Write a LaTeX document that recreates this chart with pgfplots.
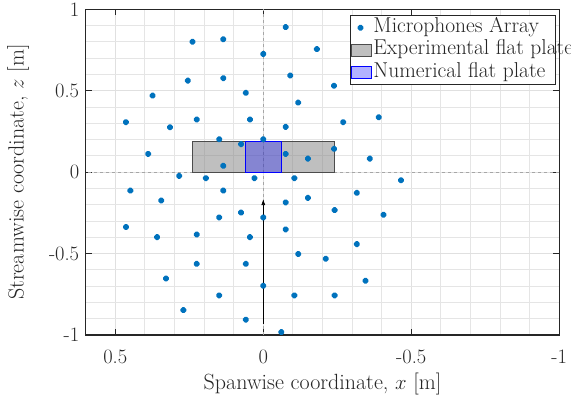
\documentclass[border=0pt]{standalone}
\usepackage{pgfplots}
\pgfplotsset{compat=1.18}
\usetikzlibrary{arrows.meta}
\definecolor{mblue}{rgb}{0,0.447,0.741}
\definecolor{edgegray}{rgb}{0.3,0.3,0.3}
\pgfplotsset{rectlegend/.style={legend image code/.code={\draw[##1] (0pt,-6pt) rectangle (20pt,6pt);}}}
\begin{document}
\begin{tikzpicture}
\begin{axis}[
  scale only axis, width=473.6pt, height=325.7pt,
  x dir=reverse,
  xmin=-1, xmax=0.6, ymin=-1, ymax=1,
  xtick={0.5,0,-0.5,-1}, xticklabels={0.5,0,-0.5,-1},
  ytick={-1,-0.5,0,0.5,1}, yticklabels={-1,-0.5,0,0.5,1},
  minor xtick={-0.9,-0.8,-0.7,-0.6,-0.4,-0.3,-0.2,-0.1,0.1,0.2,0.3,0.4},
  minor ytick={-0.9,-0.8,-0.7,-0.6,-0.4,-0.3,-0.2,-0.1,0.1,0.2,0.3,0.4,0.6,0.7,0.8,0.9},
  grid=both,
  major grid style={black!12, line width=0.9pt},
  minor grid style={black!10, line width=0.9pt},
  tick align=inside, major tick length=6pt, minor tick length=0pt,
  axis line style={line width=1.1pt, black!85},
  major tick style={line width=1.1pt, black!85},
  tick label style={font=\fontsize{20.5}{22}\selectfont, text=black!85},
  xticklabel style={yshift=-11pt},
  yticklabel style={xshift=-3pt},
  label style={font=\fontsize{22}{24}\selectfont, text=black!85},
  xlabel={Spanwise coordinate, $x$ [m]},
  ylabel={Streamwise coordinate, $z$ [m]},
  xlabel style={yshift=-3pt},
  ylabel style={yshift=13pt},
  legend cell align=left,
  legend style={at={(rel axis cs:1,1)}, anchor=north east, xshift=-3.3pt, yshift=-5.7pt,
    font=\fontsize{21.5}{23}\selectfont, text=black!85, draw=black!85, line width=1pt,
    inner sep=1pt, row sep=0pt,
    nodes={inner sep=1pt, text height=15pt, text depth=5.5pt}},
]
\addplot[forget plot, black!35, dashed, line width=0.6pt] coordinates {(0,-1) (0,1)};
\addplot[forget plot, black!35, dashed, line width=0.6pt] coordinates {(-1,0) (0.6,0)};
\addplot[only marks, mark=*, mark size=1.9pt, mark options={draw=mblue, fill=white, line width=2.8pt, line join=round}]
coordinates {
(-0.0755,0.891) (0.239,0.801) (0.135,0.816) (0,0.726) (0.255,0.562) (0.135,0.577)
(-0.091,0.593) (0.059,0.487) (0.374,0.470) (-0.118,0.427) (0.464,0.307) (0.315,0.276)
(0.225,0.323) (0.045,0.323) (-0.0755,0.278) (0.149,0.202) (0,0.202) (0.075,0.172)
(-0.0755,0.112) (0.389,0.112) (0.135,0.039) (-0.181,0.756) (-0.239,0.531) (-0.270,0.307)
(-0.390,0.337) (-0.151,0.083) (-0.239,0.143) (-0.360,0.083) (-0.105,-0.037) (-0.465,-0.050)
(0.284,-0.023) (0.194,-0.037) (0.030,-0.037) (0.449,-0.113) (0.135,-0.113) (0.345,-0.174)
(-0.0755,-0.186) (0.075,-0.248) (0.149,-0.278) (0,-0.278) (0.464,-0.337) (-0.0755,-0.352)
(0.359,-0.399) (0.225,-0.383) (0.045,-0.399) (-0.118,-0.503) (0.225,-0.563) (0.059,-0.563)
(0.329,-0.653) (0,-0.698) (0.149,-0.757) (-0.105,-0.757) (0.270,-0.847) (0.059,-0.906)
(-0.061,-0.982) (-0.316,-0.127) (-0.241,-0.233) (-0.406,-0.262) (-0.316,-0.442) (-0.211,-0.532)
(-0.345,-0.667) (-0.241,-0.757) (-0.151,-0.158)
};
\addlegendentry{Microphones Array}
\addplot[draw=edgegray, line width=1pt, fill=black!50, fill opacity=0.5, rectlegend]
  coordinates {(-0.24,0) (0.24,0) (0.24,0.19) (-0.24,0.19)} -- cycle;
\addlegendentry{\makebox[180pt][l]{Experimental flat plate}}
\addplot[draw=blue, line width=1pt, fill=blue, fill opacity=0.3, rectlegend]
  coordinates {(-0.06,0) (0.06,0) (0.06,0.19) (-0.06,0.19)} -- cycle;
\addlegendentry{Numerical flat plate}
\addplot[forget plot, black, line width=0.7pt, -{Latex[length=6pt,width=4pt]}]
  coordinates {(0,-0.93) (0,-0.165)};
\end{axis}
\pgfresetboundingbox
\path ([shift={(-85.7pt,-68pt)}]current axis.south west) rectangle ([shift={(11.7pt,9.3pt)}]current axis.north east);
\end{tikzpicture}
\end{document}
